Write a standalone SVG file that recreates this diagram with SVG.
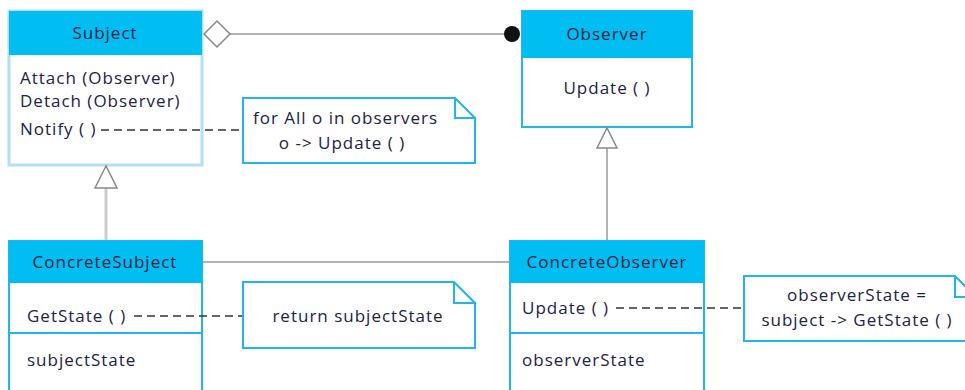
<svg xmlns="http://www.w3.org/2000/svg" width="965" height="390" viewBox="0 0 965 390">
<style>
text{font-family:"Open Sans","Liberation Sans",Arial,sans-serif;font-size:17px;fill:#222244;letter-spacing:1px}
.hd{fill:#00BDF2}
.box{fill:#fff;stroke:#22B5F0;stroke-width:2}
.lt{stroke:#B3DEF7;stroke-width:3}
.note{fill:#fff;stroke:#22B5F0;stroke-width:2}
.dash{stroke:#333;stroke-width:1.6;stroke-dasharray:8 5;fill:none}
.ln{stroke:#999;stroke-width:1.5;fill:none}
.c{text-anchor:middle}
</style>
<rect width="965" height="390" fill="#fff"/>
<g id="subject">
<rect x="9" y="11" width="193" height="154" fill="#fff" class="lt"/>
<rect x="9" y="11" width="193" height="44" class="hd"/>
<text x="105" y="39" class="c">Subject</text>
<text x="20" y="84">Attach (Observer)</text>
<text x="20" y="107">Detach (Observer)</text>
<text x="20" y="135">Notify ( )</text>
</g>
<g id="observer">
<rect x="522" y="11" width="170" height="116" class="box"/>
<rect x="522" y="11" width="170" height="47" class="hd"/>
<text x="607" y="40" class="c">Observer</text>
<text x="607" y="94" class="c">Update ( )</text>
</g>
<g id="concreteSubject">
<rect x="9" y="241" width="193" height="160" class="box"/>
<rect x="9" y="241" width="193" height="42" class="hd"/>
<line x1="9" y1="333" x2="202" y2="333" stroke="#22B5F0" stroke-width="2"/>
<text x="105" y="268" class="c">ConcreteSubject</text>
<text x="27" y="322">GetState ( )</text>
<text x="27" y="366">subjectState</text>
</g>
<g id="concreteObserver">
<rect x="510" y="241" width="194" height="160" class="box"/>
<rect x="510" y="241" width="194" height="42" class="hd"/>
<line x1="510" y1="333" x2="704" y2="333" stroke="#22B5F0" stroke-width="2"/>
<text x="607" y="268" class="c">ConcreteObserver</text>
<text x="522" y="314">Update ( )</text>
<text x="522" y="366">observerState</text>
</g>
<g id="note1">
<path class="note" d="M243,98 H455 L475,118 V163 H243 Z"/>
<path d="M455,98 V118 H475" fill="none" stroke="#22B5F0" stroke-width="2"/>
<text x="253" y="124">for All o in observers</text>
<text x="342" y="149" class="c">o -&gt; Update ( )</text>
</g>
<g id="note2">
<path class="note" d="M243,282 H454 L475,303 V348 H243 Z"/>
<path d="M454,282 V303 H475" fill="none" stroke="#22B5F0" stroke-width="2"/>
<text x="358" y="322" class="c">return subjectState</text>
</g>
<g id="note3">
<path class="note" d="M744,276 H955 L976,297 V341 H744 Z"/>
<path d="M955,276 V297 H976" fill="none" stroke="#22B5F0" stroke-width="2"/>
<text x="857" y="301" class="c">observerState =</text>
<text x="857" y="326" class="c">subject -&gt; GetState ( )</text>
</g>
<g id="connectors">
<line class="ln" x1="230" y1="34" x2="512" y2="34"/>
<polygon points="204,34 217,21 230,34 217,47" fill="#fff" stroke="#888" stroke-width="1.5"/>
<circle cx="512" cy="34" r="8" fill="#111"/>
<line x1="106" y1="188" x2="106" y2="240" stroke="#ccc" stroke-width="3"/>
<polygon points="106,166 95,188 117,188" fill="#fff" stroke="#888" stroke-width="1.5"/>
<line class="ln" x1="607" y1="148" x2="607" y2="240"/>
<polygon points="607,128 597,148 617,148" fill="#fff" stroke="#888" stroke-width="1.5"/>
<line class="ln" x1="203" y1="262" x2="509" y2="262"/>
<line class="dash" x1="101" y1="130" x2="242" y2="130"/>
<line class="dash" x1="134" y1="316" x2="242" y2="316"/>
<line class="dash" x1="616" y1="308" x2="743" y2="308"/>
</g>
</svg>
